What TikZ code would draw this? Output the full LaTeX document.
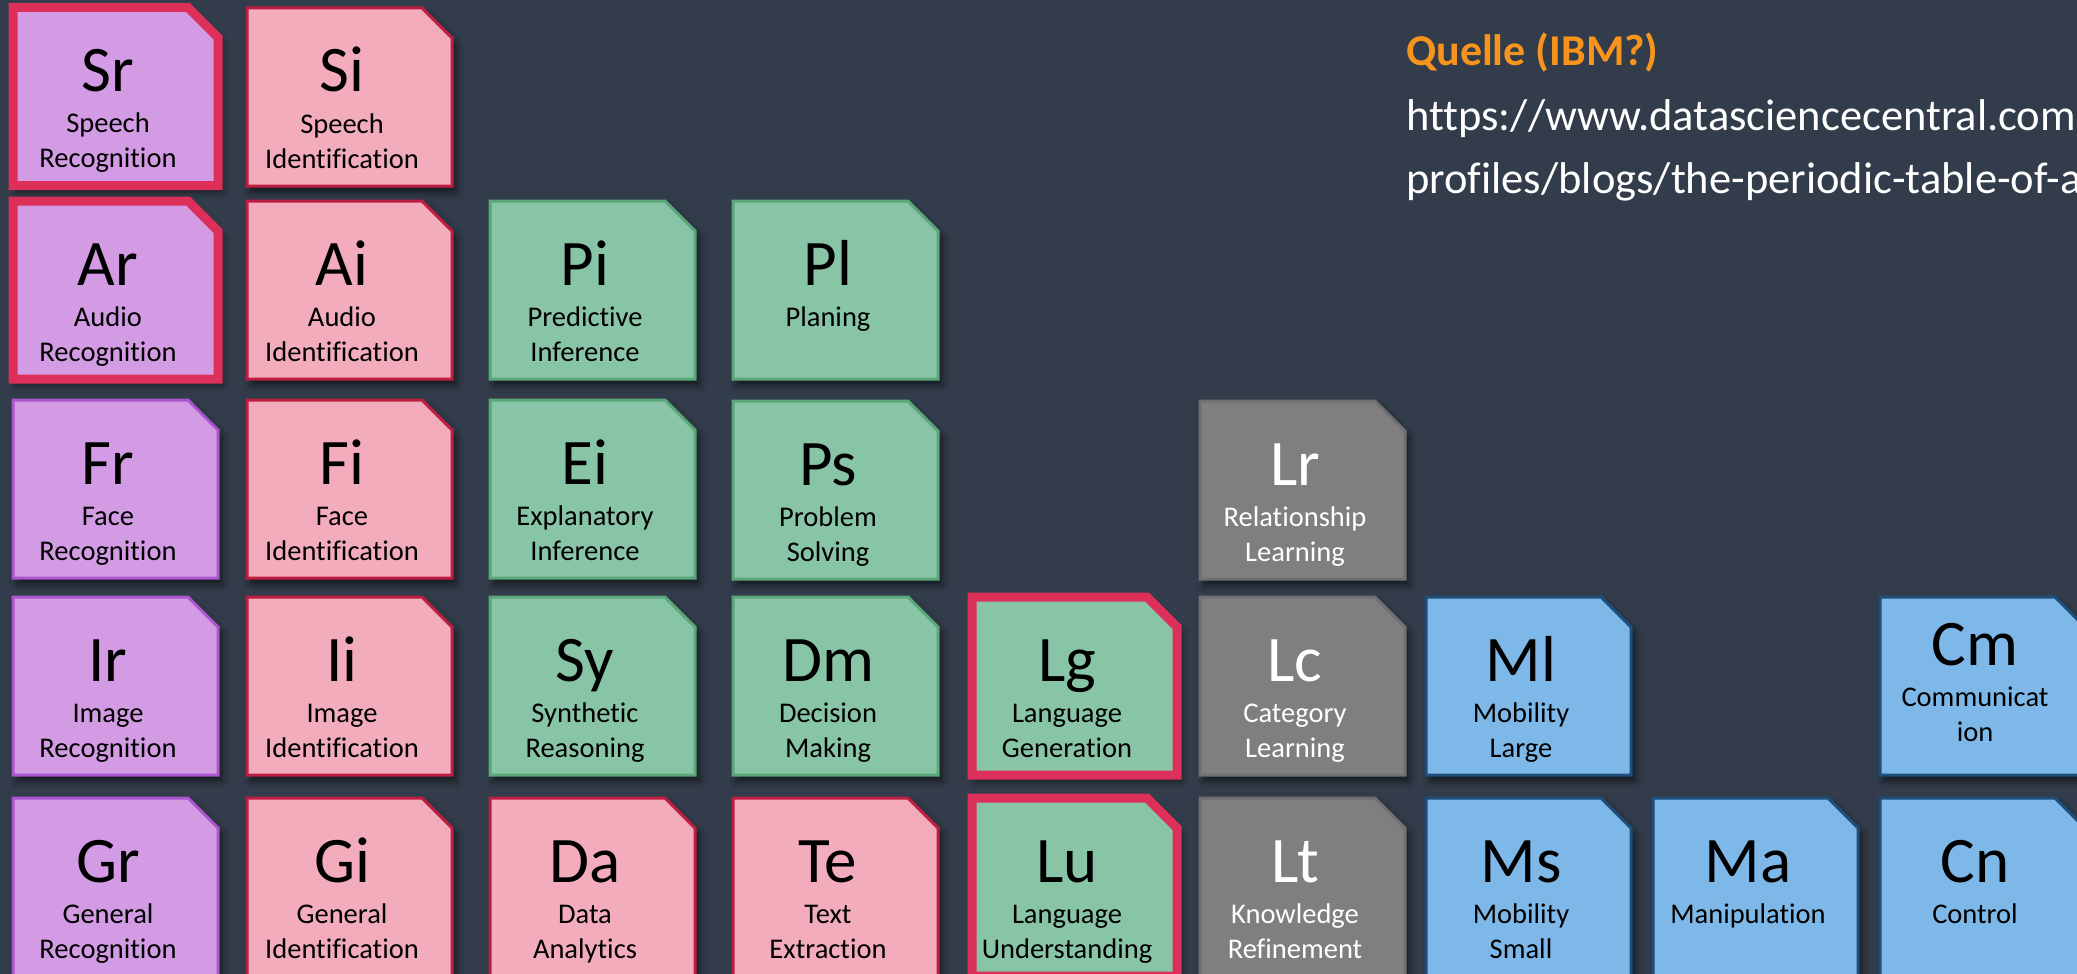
\documentclass[tikz,border=0pt]{standalone}
\usepackage{fontspec}
\setmainfont{Carlito}[Ligatures=NoCommon]
\usetikzlibrary{shadows.blur}
\definecolor{bgc}{RGB}{50,60,74}
\definecolor{purfill}{RGB}{210,155,228}
\definecolor{purline}{RGB}{170,85,205}
\definecolor{pinkfill}{RGB}{242,172,188}
\definecolor{pinkline}{RGB}{190,30,65}
\definecolor{hired}{RGB}{220,48,90}
\definecolor{grfill}{RGB}{136,196,166}
\definecolor{grline}{RGB}{90,168,122}
\definecolor{gyfill}{RGB}{127,127,127}
\definecolor{gyline}{RGB}{112,112,112}
\definecolor{blfill}{RGB}{126,184,232}
\definecolor{blline}{RGB}{30,78,121}
\definecolor{orangec}{RGB}{247,148,29}
\tikzset{
  tilebase/.style={line join=miter, blur shadow={shadow xshift=4pt, shadow yshift=-6pt, shadow blur radius=7pt, shadow opacity=60}},
  purtile/.style={tilebase, fill=purfill, draw=purline, line width=3pt},
  purhi/.style={tilebase, fill=purfill, draw=hired, line width=9pt},
  pinktile/.style={tilebase, fill=pinkfill, draw=pinkline, line width=3pt},
  grtile/.style={tilebase, fill=grfill, draw=grline, line width=3pt},
  grhi/.style={tilebase, fill=grfill, draw=hired, line width=9pt},
  gytile/.style={tilebase, fill=gyfill, draw=gyline, line width=3pt},
  bltile/.style={tilebase, fill=blfill, draw=blline, line width=3pt},
  symb/.style={anchor=base, inner sep=0pt, font=\fontsize{65}{70}\selectfont},
  desc/.style={anchor=base, inner sep=0pt, font=\fontsize{28.5}{34}\selectfont},
  srcttl/.style={anchor=base west, inner sep=0pt, text=orangec, font=\bfseries\fontsize{44}{50}\selectfont},
  srcurl/.style={anchor=base west, inner sep=0pt, text=white, font=\fontsize{44.5}{50}\selectfont}
}
% #1 name, #2 left, #3 top, #4 tile style, #5 text colour, #6 symbol, #7 line 1, #8 line 2, #9 vertical shift
\newcommand{\pttile}[9]{%
  \path[#4] (#2,#3) -- ++(175,0) -- ++(30,30) -- ++(0,148) -- ++(-205,0) -- cycle;
  \node[symb, text=#5] (#1) at (#2+95,#3+84+#9) {#6};
  \node[desc, text=#5] (#1-a) at (#2+95,#3+125+#9) {#7};
  \if\relax\detokenize{#8}\relax\else
    \node[desc, text=#5] (#1-b) at (#2+95,#3+160+#9) {#8};
  \fi
}
\begin{document}
\begin{tikzpicture}[x=1pt, y=-1pt]
\useasboundingbox (0,0) rectangle (2077,974);
\fill[bgc] (0,0) rectangle (2077,974);
\clip (0,0) rectangle (2077,974);
% column lefts: 13, 247, 490, 733, 972, 1200, 1426, 1653, 1880
% row tops: 7.5, 201, 400, 597, 798
\pttile{sr}{13}{7.5}{purhi}{black}{Sr}{Speech}{Recognition}{0}
\pttile{si}{247}{8}{pinktile}{black}{Si}{Speech}{Identification}{0}
\pttile{ar}{13}{201}{purhi}{black}{Ar}{Audio}{Recognition}{0}
\pttile{ai}{247}{201}{pinktile}{black}{Ai}{Audio}{Identification}{0}
\pttile{pi}{490}{201}{grtile}{black}{Pi}{Predictive}{Inference}{0}
\pttile{pl}{733}{201}{grtile}{black}{Pl}{Planing}{}{0}
\pttile{fr}{13}{400}{purtile}{black}{Fr}{Face}{Recognition}{0}
\pttile{fi}{247}{400}{pinktile}{black}{Fi}{Face}{Identification}{0}
\pttile{ei}{490}{400}{grtile}{black}{Ei}{Explanatory}{Inference}{0}
\pttile{ps}{733}{401}{grtile}{black}{Ps}{Problem}{Solving}{0}
\pttile{lr}{1200}{401}{gytile}{white}{Lr}{Relationship}{Learning}{0}
\pttile{ir}{13}{597}{purtile}{black}{Ir}{Image}{Recognition}{0}
\pttile{ii}{247}{597}{pinktile}{black}{Ii}{Image}{Identification}{0}
\pttile{sy}{490}{597}{grtile}{black}{Sy}{Synthetic}{Reasoning}{0}
\pttile{dm}{733}{597}{grtile}{black}{Dm}{Decision}{Making}{0}
\pttile{lg}{972}{597}{grhi}{black}{Lg}{Language}{Generation}{0}
\pttile{lc}{1200}{597}{gytile}{white}{Lc}{Category}{Learning}{0}
\pttile{ml}{1426}{597}{bltile}{black}{Ml}{Mobility}{Large}{0}
\pttile{cm}{1880}{597}{bltile}{black}{Cm}{Communicat}{ion}{-16}
\pttile{gr}{13}{798}{purtile}{black}{Gr}{General}{Recognition}{0}
\pttile{gi}{247}{798}{pinktile}{black}{Gi}{General}{Identification}{0}
\pttile{da}{490}{798}{pinktile}{black}{Da}{Data}{Analytics}{0}
\pttile{te}{733}{798}{pinktile}{black}{Te}{Text}{Extraction}{0}
\pttile{lu}{972}{798}{grhi}{black}{Lu}{Language}{Understanding}{0}
\pttile{lt}{1200}{798}{gytile}{white}{Lt}{Knowledge}{Refinement}{0}
\pttile{ms}{1426}{798}{bltile}{black}{Ms}{Mobility}{Small}{0}
\pttile{ma}{1653}{798}{bltile}{black}{Ma}{Manipulation}{}{0}
\pttile{cn}{1880}{798}{bltile}{black}{Cn}{Control}{}{0}
% source text
\node[srcttl] (quelle) at (1406,66) {Quelle (IBM?)};
\node[srcurl] (url1) at (1406,130) {https://www.datasciencecentral.com};
\node[srcurl] (url2) at (1406,193) {profiles/blogs/the-periodic-table-of-a};
\end{tikzpicture}
\end{document}
